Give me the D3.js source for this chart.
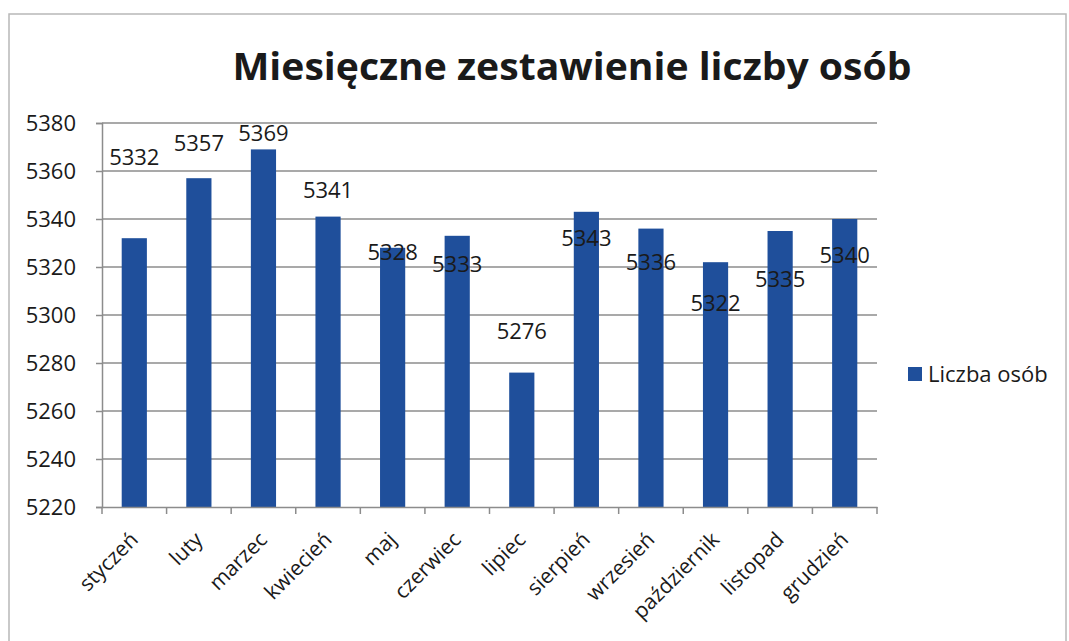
<!DOCTYPE html>
<html>
<head>
<meta charset="utf-8">
<script src="https://cdn.jsdelivr.net/npm/d3@7"></script>
<style>
  body { margin: 0; background: #fff; }
  text { font-family: "Open Sans", "Noto Sans", sans-serif; fill: #1a1a1a; }
</style>
</head>
<body>
<div id="chart"></div>
<script>
// data
var months = ['styczeń', 'luty', 'marzec', 'kwiecień', 'maj', 'czerwiec', 'lipiec',
  'sierpień', 'wrzesień', 'październik', 'listopad', 'grudzień'];
var people = [5332, 5357, 5369, 5341, 5328, 5333, 5276, 5343, 5336, 5322, 5335, 5340];
var yTicks = [5220, 5240, 5260, 5280, 5300, 5320, 5340, 5360, 5380];
var seriesName = 'Liczba osób';
var title = 'Miesięczne zestawienie liczby osób';

// labels were dragged around in the original, shift (px) from bar top
var labelShift = [-81, -35, -16, -27, 4, 28, -42, 26, 33, 41, 48, 36];

var W = 1069, H = 641;
var mLeft = 102, mRight = 877, mTop = 123, mBottom = 507;
var barColor = '#1f4f9b';
var gridColor = '#8c8c8c';

var svg = d3.select('#chart').append('svg')
  .attr('width', W)
  .attr('height', H);

// scanned frame
svg.append('rect')
  .attr('x', 9).attr('y', 14)
  .attr('width', W - 12).attr('height', H)
  .attr('fill', '#fff')
  .attr('stroke', '#b8b8b8')
  .attr('stroke-width', 1.5);

var x = d3.scaleBand().domain(months).range([mLeft, mRight]).paddingInner(0.61).paddingOuter(0.305);
var xb = d3.scaleBand().domain(months).range([mLeft, mRight]);
var y = d3.scaleLinear().domain([5220, 5380]).range([mBottom, mTop]);

// gridlines
svg.append('g').selectAll('line').data(yTicks.slice(1)).enter().append('line')
  .attr('x1', mLeft).attr('x2', mRight)
  .attr('y1', function (d) { return y(d); })
  .attr('y2', function (d) { return y(d); })
  .attr('stroke', gridColor)
  .attr('stroke-width', 1.5);

// bars
svg.append('g').selectAll('rect').data(people).enter().append('rect')
  .attr('x', function (d, i) { return x(months[i]); })
  .attr('y', function (d) { return y(d); })
  .attr('width', x.bandwidth())
  .attr('height', function (d) { return mBottom - y(d); })
  .attr('fill', barColor);

// y axis
var yAxis = svg.append('g')
  .attr('transform', 'translate(' + mLeft + ',0)')
  .call(d3.axisLeft(y).tickValues(yTicks).tickSize(6).tickPadding(20).tickFormat(d3.format('d')));
yAxis.select('.domain').attr('stroke', gridColor).attr('stroke-width', 1.5);
yAxis.selectAll('.tick line').attr('stroke', gridColor).attr('stroke-width', 1.5);
yAxis.selectAll('.tick text')
  .style('font-family', '"Open Sans", sans-serif')
  .style('font-size', '22px')
  .attr('fill', '#1a1a1a');

// x axis with ticks between categories
var xAxis = svg.append('g')
  .attr('transform', 'translate(0,' + mBottom + ')')
  .call(d3.axisBottom(xb).tickSize(0).tickFormat(''));
xAxis.select('.domain').attr('stroke', gridColor).attr('stroke-width', 1.5);
xAxis.selectAll('.tick').remove();
svg.append('g').selectAll('line').data(months.concat([null])).enter().append('line')
  .attr('x1', function (d, i) { return mLeft + i * xb.bandwidth(); })
  .attr('x2', function (d, i) { return mLeft + i * xb.bandwidth(); })
  .attr('y1', mBottom).attr('y2', mBottom + 7)
  .attr('stroke', gridColor)
  .attr('stroke-width', 1.5);

// rotated month names
svg.append('g').selectAll('text').data(months).enter().append('text')
  .attr('transform', function (d) {
    return 'translate(' + (xb(d) + xb.bandwidth() / 2 + 5) + ',' + (mBottom + 34) + ') rotate(-45)';
  })
  .attr('text-anchor', 'end')
  .style('font-size', '21px')
  .text(function (d) { return d; });

// value labels
svg.append('g').selectAll('text').data(people).enter().append('text')
  .attr('x', function (d, i) { return x(months[i]) + x.bandwidth() / 2; })
  .attr('y', function (d, i) { return y(d) + labelShift[i]; })
  .attr('dy', '0.36em')
  .attr('text-anchor', 'middle')
  .style('font-size', '22px')
  .text(function (d) { return d; });

// title
svg.append('text')
  .attr('x', 572).attr('y', 80)
  .attr('text-anchor', 'middle')
  .style('font-size', '38px')
  .style('font-weight', 'bold')
  .attr('textLength', 679)
  .attr('lengthAdjust', 'spacingAndGlyphs')
  .text(title);

// legend
var legend = svg.append('g').attr('transform', 'translate(908,367)');
legend.append('rect')
  .attr('width', 14).attr('height', 14)
  .attr('fill', barColor);
legend.append('text')
  .attr('x', 20).attr('y', 7)
  .attr('dy', '0.36em')
  .style('font-size', '22px')
  .text(seriesName);
</script>
</body>
</html>
